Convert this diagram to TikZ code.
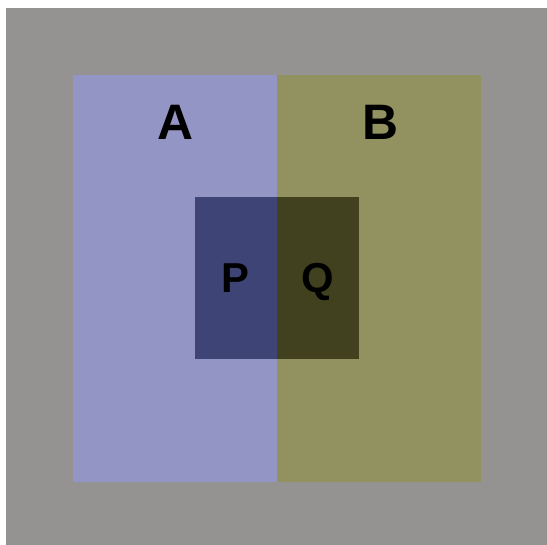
\documentclass[tikz,border=0pt]{standalone}
\usepackage{fontspec}
\setmainfont{Liberation Sans}
\definecolor{bggray}{HTML}{949391}
\definecolor{lightblue}{HTML}{9395C4}
\definecolor{lightolive}{HTML}{929160}
\definecolor{darkblue}{HTML}{3F4477}
\definecolor{darkolive}{HTML}{414120}
\tikzset{
  bigletter/.style={font=\fontsize{50}{50}\selectfont\bfseries, text=black, inner sep=0pt, anchor=base},
  smallletter/.style={font=\fontsize{42}{42}\selectfont\bfseries, text=black, inner sep=0pt, anchor=base}
}
\begin{document}
\begin{tikzpicture}[x=1bp,y=-1bp]
  \useasboundingbox (0,0) rectangle (547,545);
  \fill[white] (0,0) rectangle (547,545);
  \fill[bggray] (6,8) rectangle (547,545);
  % outer halves
  \fill[lightblue] (73,75) rectangle (277,482);
  \fill[lightolive] (277,75) rectangle (481,482);
  % inner square halves
  \fill[darkblue] (195,197) rectangle (277,359);
  \fill[darkolive] (277,197) rectangle (359,359);
  % labels
  \node[bigletter] (a) at (175.5,140) {A};
  \node[bigletter] (b) at (380,140) {B};
  \node[smallletter] (p) at (235,292) {P};
  \node[smallletter] (q) at (317.5,292) {Q};
\end{tikzpicture}
\end{document}
